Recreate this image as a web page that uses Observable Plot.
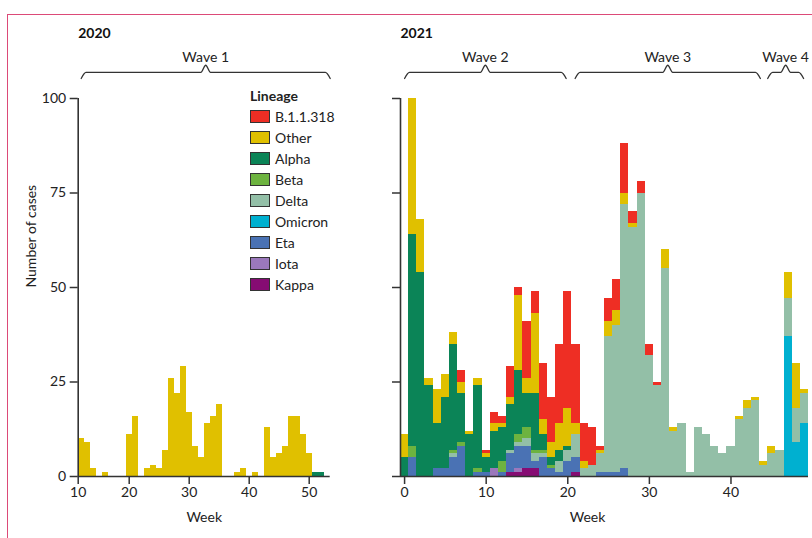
<!DOCTYPE html>
<html>
<head>
<meta charset="utf-8">
<script src="https://cdn.jsdelivr.net/npm/d3@7"></script>
<script src="https://cdn.jsdelivr.net/npm/@observablehq/plot@0.6"></script>
<style>
  html, body { margin: 0; padding: 0; background: #fff; }
  #wrap { position: relative; width: 812px; height: 538px; background: #fff; overflow: hidden; font-family: Lato, sans-serif; }
  #frameTop { position: absolute; left: 7px; top: 14px; width: 805px; height: 0; border-top: 1.5px solid #dc4a78; }
  #frameLeft { position: absolute; left: 7px; top: 14px; width: 0; height: 524px; border-left: 1.5px solid #dc4a78; }
  #p1, #p2 { position: absolute; top: 0; }
  #p1 { left: 0; }
  #p2 { left: 340px; }
  #legend { position: absolute; left: 250px; top: 85px; font-size: 14px; color: #222; z-index: 2; }
  #legend .title { font-weight: bold; height: 21px; line-height: 21px; }
  #legend .row { display: flex; align-items: center; height: 21px; }
  #legend .sw { width: 18px; height: 11px; border: 1px solid #333; margin-right: 5px; }
</style>
</head>
<body>
<div id="wrap">
  <div id="frameTop"></div>
  <div id="frameLeft"></div>
  <div id="p1"></div>
  <div id="p2"></div>
  <div id="legend"></div>
</div>
<script>
// ---------- Lineages ----------
const lineages = ["B.1.1.318", "Other", "Alpha", "Beta", "Delta", "Omicron", "Eta", "Iota", "Kappa"];
const lineageColors = ["#ee2e24", "#e0c000", "#0b8457", "#6db33f", "#93bfa7", "#00b0d0", "#4a72b4", "#9b78bc", "#860c73"];
const stackOrder = ["Kappa", "Iota", "Eta", "Omicron", "Delta", "Beta", "Alpha", "Other", "B.1.1.318"];

// ---------- 2020 (weeks 12–52) ----------
const weeks2020 = [12,13,14,15,16,17,18,19,20,21,22,23,24,25,26,27,28,29,30,31,32,33,34,35,36,37,38,39,40,41,42,43,44,45,46,47,48,49,50,51,52];
const other2020 = [10,9,2,0,1,0,0,0,11,16,0,2,3,2,7,26,22,29,17,8,5,14,16,19,0,0,1,2,0,1,0,13,5,6,8,16,16,11,6,0,0];
const alpha2020 = [0,0,0,0,0,0,0,0,0,0,0,0,0,0,0,0,0,0,0,0,0,0,0,0,0,0,0,0,0,0,0,0,0,0,0,0,0,0,0,1,1];

// ---------- 2021 (weeks 0–49) ----------
const weeks2021 = [0,1,2,3,4,5,6,7,8,9,10,11,12,13,14,15,16,17,18,19,20,21,22,23,24,25,26,27,28,29,30,31,32,33,34,35,36,37,38,39,40,41,42,43,44,45,46,47,48,49];
const b11318_2021 = [0,0,0,0,0, 0,0,3,0,0, 1,3,2,8,2, 15,6,15,12,21, 31,21,10,10,1, 6,8,13,3,3, 3,1,0,0,0, 0,0,0,0,0, 0,0,0,0,0, 0,0,0,0,0];
const other2021   = [6,36,14,2,9, 6,3,3,1,2, 1,2,1,2,20, 4,21,4,4,7, 10,3,2,0,1, 4,4,3,1,0, 0,0,5,1,0, 0,0,0,0,0, 0,1,2,1,1, 2,0,7,12,1];
const alpha2021   = [5,56,54,24,12, 19,28,13,11,22, 4,10,9,12,17, 9,15,4,2,3, 1,0,0,0,0, 0,0,0,0,0, 0,0,0,0,0, 0,0,0,0,0, 0,0,0,0,0, 0,0,0,0,0];
const beta2021    = [0,3,0,0,0, 0,1,1,0,1, 0,0,3,0,2, 3,1,1,1,0, 0,0,0,0,0, 0,0,0,0,0, 0,0,0,0,0, 0,0,0,0,0, 0,0,0,0,0, 0,0,0,0,0];
const delta2021   = [0,0,0,0,0, 0,1,0,0,0, 0,0,0,1,1, 2,2,1,0,3, 3,6,2,3,5, 36,39,70,66,75, 32,24,55,12,14, 1,13,11,8,6, 8,15,18,20,3, 6,7,10,9,8];
const omicron2021 = [0,0,0,0,0, 0,0,0,0,0, 0,0,0,0,0, 0,0,0,0,0, 0,0,0,0,0, 0,0,0,0,0, 0,0,0,0,0, 0,0,0,0,0, 0,0,0,0,0, 0,0,37,9,14];
const eta2021     = [0,5,0,0,2, 2,5,8,0,1, 1,0,1,5,6, 6,2,5,2,1, 4,4,0,0,1, 1,1,2,0,0, 0,0,0,0,0, 0,0,0,0,0, 0,0,0,0,0, 0,0,0,0,0];
const iota2021    = [0,0,0,0,0, 0,0,0,0,0, 0,2,0,0,1, 0,0,0,0,0, 0,0,0,0,0, 0,0,0,0,0, 0,0,0,0,0, 0,0,0,0,0, 0,0,0,0,0, 0,0,0,0,0];
const kappa2021   = [0,0,0,0,0, 0,0,0,0,0, 0,0,0,1,1, 2,2,0,0,0, 0,1,0,0,0, 0,0,0,0,0, 0,0,0,0,0, 0,0,0,0,0, 0,0,0,0,0, 0,0,0,0,0];

// ---------- Axes / labels ----------
const xTickLabels2020 = [10, 20, 30, 40, 50];
const xTickLabels2021 = [0, 10, 20, 30, 40];
const yTicks = [0, 25, 50, 75, 100];

// ---------- Waves ----------
const waveNames = ["Wave 1", "Wave 2", "Wave 3", "Wave 4"];
const waveYear  = [2020, 2021, 2021, 2021];
const waveStart = [12, 0, 20.9, 44.5];
const waveEnd   = [53.5, 19.8, 43.6, 48.9];

// ---------- Build tables ----------
function longTable(weeks, seriesByLineage) {
  const rows = [];
  for (const [lineage, values] of Object.entries(seriesByLineage)) {
    weeks.forEach((w, i) => { if (values[i] > 0) rows.push({week: w, lineage, n: values[i]}); });
  }
  return rows;
}
const data2020 = longTable(weeks2020, {"Other": other2020, "Alpha": alpha2020});
const data2021 = longTable(weeks2021, {
  "B.1.1.318": b11318_2021, "Other": other2021, "Alpha": alpha2021, "Beta": beta2021,
  "Delta": delta2021, "Omicron": omicron2021, "Eta": eta2021, "Iota": iota2021, "Kappa": kappa2021
});

const axisColor = "#333";

function braceShape(a, b, r) {
  const m = (a + b) / 2;
  return [
    {x: a, y: 105.3}, {x: a + r, y: 106.9}, {x: m - r, y: 106.9}, {x: m, y: 108.8},
    {x: m + r, y: 106.9}, {x: b - r, y: 106.9}, {x: b, y: 105.3}
  ];
}

function panel({data, domain, tickLabels, width, marginLeft, marginRight, showYLabels, year, braceR, weekDx}) {
  const tickPos = tickLabels.map(t => Math.max(t, domain[0]));
  const labelOf = new Map(tickPos.map((p, i) => [p, String(tickLabels[i])]));
  const waves = waveNames.map((name, i) => ({name, year: waveYear[i], a: waveStart[i], b: waveEnd[i]}))
    .filter(w => w.year === year);
  const braceMarks = waves.map(w => Plot.line(braceShape(w.a, w.b, braceR), {
    x: "x", y: "y", curve: "monotone-x", stroke: axisColor, strokeWidth: 1.3
  }));
  const marks = [
    Plot.rectY(data, Plot.stackY({
      x1: d => d.week - 0.5, x2: d => d.week + 0.5, y: "n", fill: "lineage", order: stackOrder,
      shapeRendering: "crispEdges"
    })),
    Plot.axisX({ticks: tickPos, tickFormat: d => labelOf.get(d), tickSize: 8, tickPadding: 3,
      label: null, stroke: axisColor, strokeWidth: 1.5, fill: "#222"}),
    Plot.axisY({ticks: yTicks, tickSize: 8, tickPadding: 4, label: null, stroke: axisColor,
      strokeWidth: 1.5, fill: "#222", tickFormat: showYLabels ? d => String(d) : () => ""}),
    Plot.ruleY([0], {stroke: axisColor, strokeWidth: 1.6}),
    Plot.ruleX([domain[0]], {y1: 0, y2: 100, stroke: axisColor, strokeWidth: 1.6}),
    Plot.text([String(year)], {frameAnchor: "top-left", textAnchor: "start", dy: -70,
      fontWeight: "bold", fill: "#111"}),
    Plot.text(["Week"], {frameAnchor: "bottom", dy: 45, dx: weekDx, fill: "#222"}),
    Plot.text(waves, {x: w => (w.a + w.b) / 2, frameAnchor: "top", dy: -46, text: "name", fill: "#222"}),
    ...braceMarks
  ];
  if (showYLabels) {
    marks.push(Plot.text(["Number of cases"], {frameAnchor: "left", rotate: -90, dx: -47, fill: "#222"}));
  }
  return Plot.plot({
    width, height: 538, marginTop: 98, marginBottom: 62, marginLeft, marginRight,
    style: {fontFamily: "Lato, sans-serif", fontSize: "14px", color: "#222", background: "transparent", overflow: "visible"},
    x: {domain},
    y: {domain: [0, 100]},
    color: {domain: lineages, range: lineageColors},
    marks
  });
}

document.getElementById("p1").append(panel({
  data: data2020, domain: [11.5, 53.5], tickLabels: xTickLabels2020,
  width: 340, marginLeft: 77.7, marginRight: 10.3, showYLabels: true, year: 2020, braceR: 0.8, weekDx: 0
}));
document.getElementById("p2").append(panel({
  data: data2021, domain: [-0.5, 49.5], tickLabels: xTickLabels2021,
  width: 472, marginLeft: 60, marginRight: 4, showYLabels: false, year: 2021, braceR: 0.6, weekDx: -17
}));

// ---------- Legend ----------
const legend = document.getElementById("legend");
const title = document.createElement("div");
title.className = "title";
title.textContent = "Lineage";
legend.append(title);
lineages.forEach((name, i) => {
  const row = document.createElement("div");
  row.className = "row";
  const sw = document.createElement("div");
  sw.className = "sw";
  sw.style.background = lineageColors[i];
  const lab = document.createElement("span");
  lab.textContent = name;
  row.append(sw, lab);
  legend.append(row);
});
</script>
</body>
</html>
